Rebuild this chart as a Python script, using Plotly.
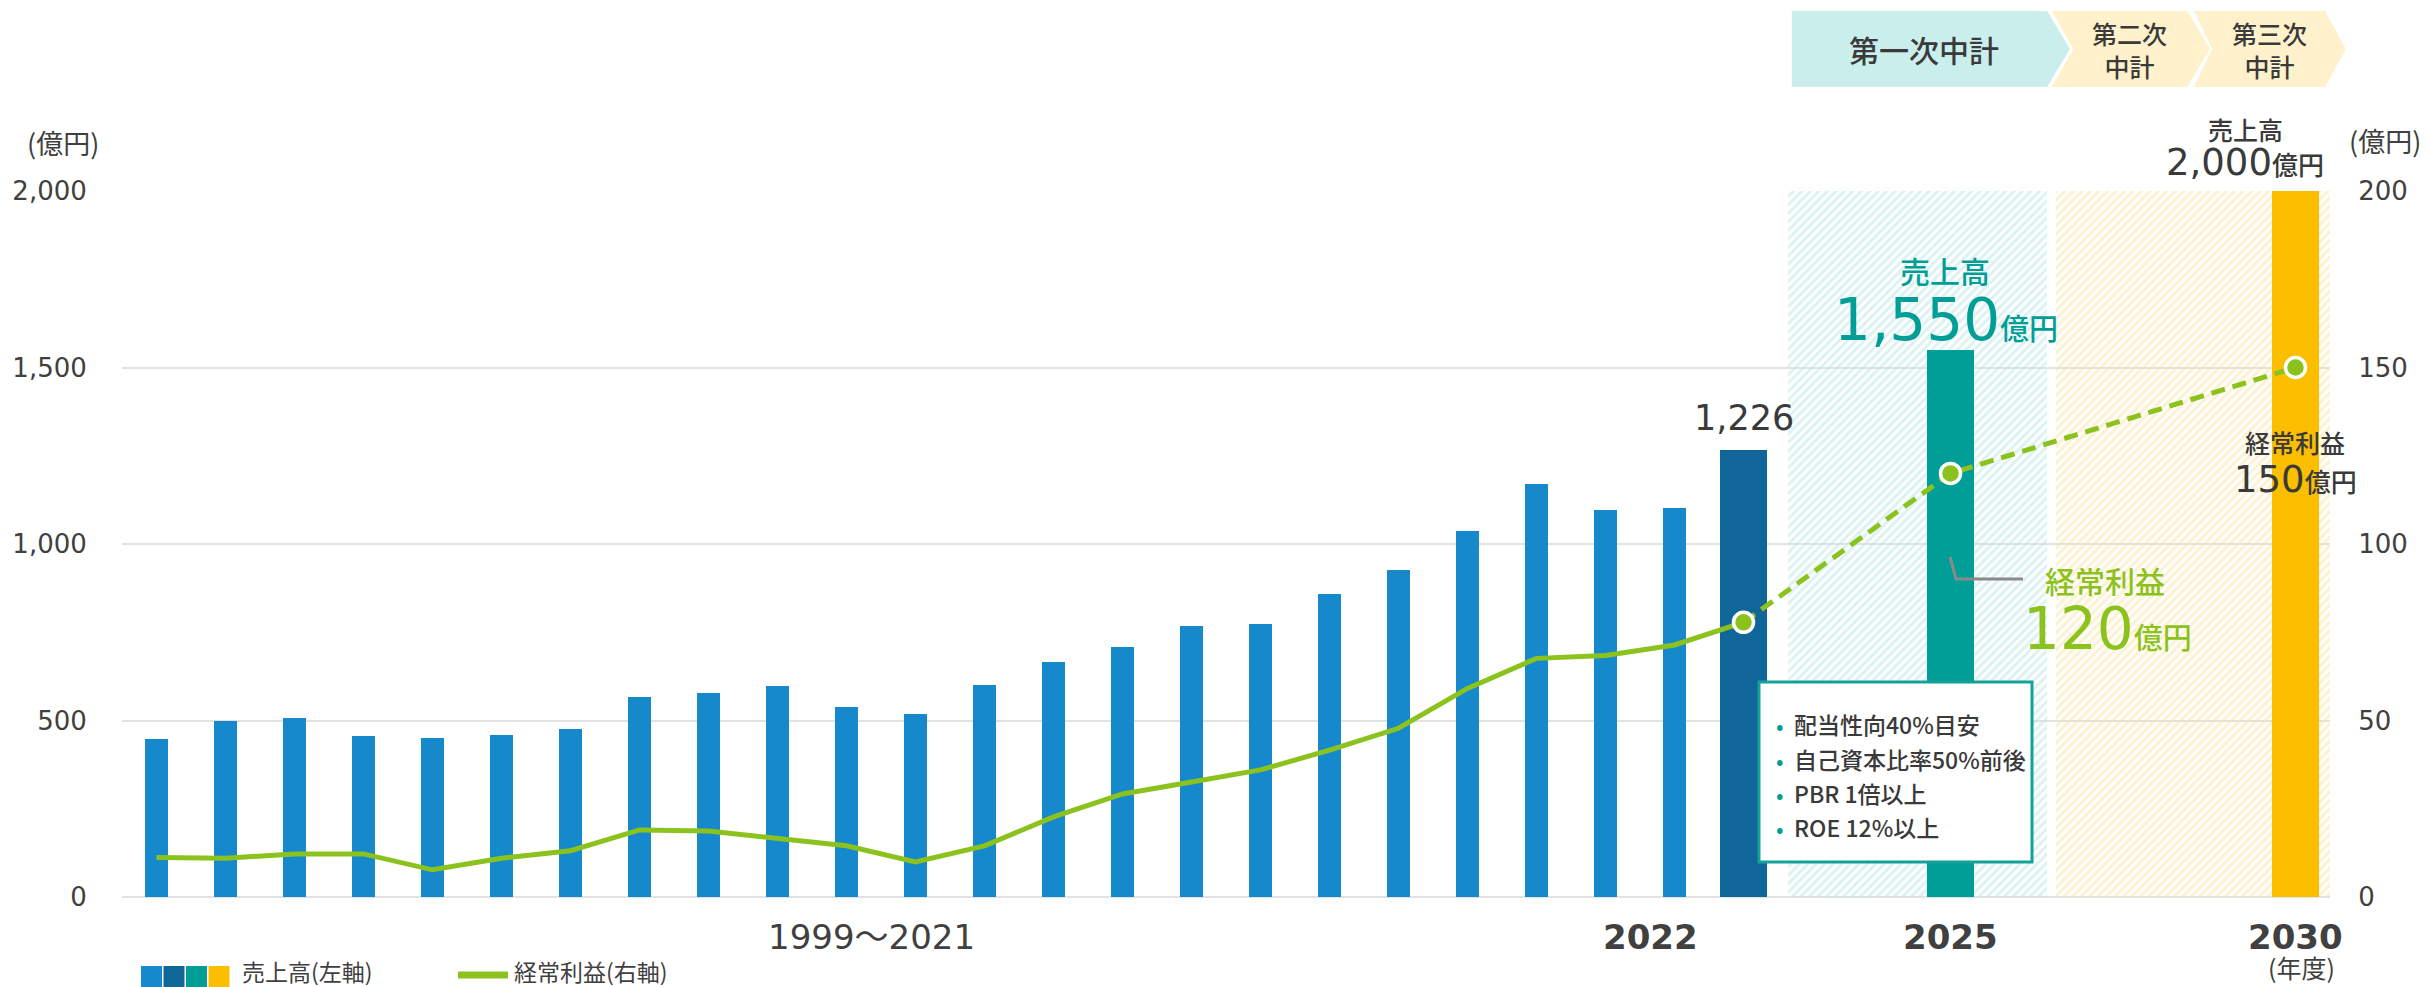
import plotly.graph_objects as go

# ---------------- data ----------------
years_hist = list(range(1999, 2022))
sales_hist = [447, 498, 506, 456, 450, 460, 476, 568, 577, 598, 537, 518,
              601, 666, 708, 768, 773, 859, 925, 1037, 1171, 1096, 1101]
profit_hist = [11.2, 11.0, 12.2, 12.2, 7.7, 11.0, 13.1, 19.0, 18.7, 16.6, 14.5, 9.9,
               14.5, 22.7, 29.2, 32.6, 36.0, 41.6, 47.8, 59.1, 67.6, 68.4, 71.4]
year_actual = 2022
sales_actual = 1265
sales_actual_label = "1,226"
profit_actual = 77.8
years_plan = [2025, 2030]
sales_plan = [1550, 2000]
profit_plan = [120, 150]
plan_labels = ["第一次中計", "第二次<br>中計", "第三次<br>中計"]
box_lines = ["配当性向40%目安", "自己資本比率50%前後", "PBR 1倍以上", "ROE 12%以上"]

# ---------------- style ----------------
C_HIST = "#1589cb"
C_ACT = "#116699"
C_MID = "#009e96"
C_LONG = "#fbbf00"
C_LINE = "#8cc21e"
C_TEXT = "#404040"
C_DARK = "#3a3a3a"
FONT = "Noto Sans CJK JP"
NUMFONT = "DejaVu Sans, Noto Sans CJK JP"

X_MIN, X_MAX = 1998.5, 2030.5
L_M, R_M, T_M, B_M = 122, 98, 191, 90
W, H = 2428, 987
PW, PH = W - L_M - R_M, H - T_M - B_M


def px_x(px):
    return (px - L_M) / PW


def px_y(py):
    return (H - B_M - py) / PH


def yr(y):
    return (y - X_MIN) / (X_MAX - X_MIN)


def label(px, py, text, size, color=C_TEXT, weight=400, xanchor="center",
          family=FONT, **kw):
    d = dict(x=px_x(px), y=px_y(py), xref="paper", yref="paper", text=text,
             showarrow=False, xanchor=xanchor, yanchor="middle",
             font=dict(size=size, color=color, family=family, weight=weight))
    d.update(kw)
    return d


fig = go.Figure()

# hatched plan-period backgrounds
bands = [(2022.65, 2026.40, "#bae7e3"), (2026.53, 2030.63, "#fbe3a0")]
for x0, x1, col in bands:
    fig.add_trace(go.Bar(
        x=[(x0 + x1) / 2], y=[2000], width=[x1 - x0], base=0,
        marker=dict(color="rgba(255,255,255,0)", line=dict(width=0),
                    pattern=dict(shape="/", fgcolor=col, bgcolor="rgba(255,255,255,0)",
                                 size=6, solidity=0.5, fillmode="overlay")),
        cliponaxis=False, hoverinfo="skip", showlegend=False))

# sales bars
bar_x = years_hist + [year_actual] + years_plan
bar_y = sales_hist + [sales_actual] + sales_plan
bar_c = [C_HIST] * len(years_hist) + [C_ACT, C_MID, C_LONG]
bar_w = [0.337] * len(years_hist) + [0.68, 0.68, 0.68]
fig.add_trace(go.Bar(x=bar_x, y=bar_y, width=bar_w,
                     marker=dict(color=bar_c, line=dict(width=0)),
                     showlegend=False))

# profit line
fig.add_trace(go.Scatter(x=years_hist + [year_actual], y=profit_hist + [profit_actual],
                         yaxis="y2", mode="lines",
                         line=dict(color=C_LINE, width=5), showlegend=False))
fig.add_trace(go.Scatter(x=[year_actual] + years_plan, y=[profit_actual] + profit_plan,
                         yaxis="y2", mode="lines",
                         line=dict(color=C_LINE, width=5, dash="14px,8px"), showlegend=False))
fig.add_trace(go.Scatter(x=[year_actual] + years_plan, y=[profit_actual] + profit_plan,
                         yaxis="y2", mode="markers",
                         marker=dict(color=C_LINE, size=20, line=dict(color="white", width=3.5)),
                         showlegend=False))

shapes = []
annos = []

# chevron banner
chev_top, chev_bot = px_y(11), px_y(87)
chev_mid = (chev_top + chev_bot) / 2
chevrons = [
    (2022.70, None, 2026.40, 2026.73, "#c9eeec", 2024.62, 30),
    (2026.47, 2026.78, 2028.43, 2028.76, "#fff1cc", 2027.60, 25),
    (2028.53, 2028.79, 2030.43, 2030.73, "#fff1cc", 2029.62, 25),
]
for i, (lx, nx, rx, tx, col, cx, fs) in enumerate(chevrons):
    pts = [(yr(lx), chev_top), (yr(rx), chev_top), (yr(tx), chev_mid),
           (yr(rx), chev_bot), (yr(lx), chev_bot)]
    if nx is not None:
        pts.append((yr(nx), chev_mid))
    path = "M " + " L ".join(f"{a:.5f},{b:.5f}" for a, b in pts) + " Z"
    shapes.append(dict(type="path", path=path, xref="paper", yref="paper",
                       fillcolor=col, line=dict(width=0), layer="above"))
    annos.append(dict(x=yr(cx), y=chev_mid, xref="paper", yref="paper",
                      xanchor="center", yanchor="middle",
                      text=plan_labels[i], showarrow=False,
                      font=dict(size=fs, color=C_DARK, family=FONT, weight=500)))

# axis unit labels
annos.append(label(63, 142, "(億円)", 27))
annos.append(label(2385, 141, "(億円)", 27))

# x labels
annos.append(label(871, 937, f"{years_hist[0]}〜{years_hist[-1]}", 34, family=NUMFONT))
annos.append(label(1650, 937, str(year_actual), 34, weight=700, family=NUMFONT))
for yv in years_plan:
    annos.append(dict(x=yr(yv), y=px_y(937), xref="paper", yref="paper",
                      xanchor="center", yanchor="middle",
                      text=str(yv), showarrow=False,
                      font=dict(size=34, color=C_TEXT, family=NUMFONT, weight=700)))
annos.append(label(2301, 967, "(年度)", 25))

# value labels
annos.append(dict(x=year_actual, y=px_y(418), xref="x", yref="paper",
                  xanchor="center", yanchor="middle",
                  text=sales_actual_label, showarrow=False,
                  font=dict(size=35, color=C_DARK, family=NUMFONT, weight=400)))

annos.append(label(1945, 270, "売上高", 30, C_MID, 500))
annos.append(label(1946, 320, f"{sales_plan[0]:,}<span style='font-size:29px'>億円</span>",
                   58, C_MID, 500, family=NUMFONT))
annos.append(label(2105, 580, "経常利益", 30, C_LINE, 500))
annos.append(label(2107, 629, f"{profit_plan[0]}<span style='font-size:29px'>億円</span>",
                   58, C_LINE, 500, family=NUMFONT))
annos.append(label(2245, 129, "売上高", 25, C_DARK, 500))
annos.append(label(2245, 163, f"{sales_plan[1]:,}<span style='font-size:26px'>億円</span>",
                   37, C_DARK, 500, family=NUMFONT))
annos.append(label(2295, 442, "経常利益", 25, C_DARK, 500))
annos.append(label(2295, 479, f"{profit_plan[1]}<span style='font-size:26px'>億円</span>",
                   37, C_DARK, 500, family=NUMFONT))

# leader line for 経常利益 120
lead = [(1950, 557), (1956, 579), (2023, 579)]
shapes.append(dict(type="path", xref="paper", yref="paper", layer="above",
                   path="M " + " L ".join(f"{px_x(a):.5f},{px_y(b):.5f}" for a, b in lead),
                   line=dict(color="#8a8a8a", width=3)))

# target box
shapes.append(dict(type="rect", xref="paper", yref="paper", layer="above",
                   x0=px_x(1759), x1=px_x(2032), y0=px_y(862), y1=px_y(682),
                   fillcolor="white", line=dict(color="#14a19a", width=3)))
box_y = [724, 759, 793, 827]
for t, by in zip(box_lines, box_y):
    annos.append(label(1779, by, "•", 22, C_MID))
    annos.append(label(1792, by, t, 23, C_DARK, 500, xanchor="left"))

# custom legend
sq_cols = [C_HIST, C_ACT, C_MID, C_LONG]
for i, c in enumerate(sq_cols):
    x0 = 141 + i * 22.5
    shapes.append(dict(type="rect", xref="paper", yref="paper",
                       x0=px_x(x0), x1=px_x(x0 + 21), y0=px_y(966), y1=px_y(988),
                       fillcolor=c, line=dict(width=0)))
annos.append(label(240, 971, "売上高(左軸)", 23, xanchor="left"))
shapes.append(dict(type="line", xref="paper", yref="paper",
                   x0=px_x(458), x1=px_x(508), y0=px_y(975), y1=px_y(975),
                   line=dict(color=C_LINE, width=7)))
annos.append(label(512, 971, "経常利益(右軸)", 23, xanchor="left"))

fig.update_layout(
    width=W, height=H,
    margin=dict(l=L_M, r=R_M, t=T_M, b=B_M, pad=0, autoexpand=False),
    paper_bgcolor="white", plot_bgcolor="white",
    font=dict(family=FONT, color=C_TEXT),
    barmode="overlay", bargap=0,
    showlegend=False,
    shapes=shapes, annotations=annos,
    xaxis=dict(range=[X_MIN, X_MAX], showgrid=False, zeroline=False,
               showticklabels=False, ticks="", showline=False, fixedrange=True),
    yaxis=dict(range=[0, 2000], tickvals=[0, 500, 1000, 1500, 2000],
               tickformat=",", showgrid=True, gridcolor="#e2e2e2", gridwidth=2,
               zeroline=True, zerolinecolor="#e2e2e2", zerolinewidth=2,
               ticks="outside", ticklen=29, tickcolor="rgba(0,0,0,0)",
               tickfont=dict(size=26, color=C_TEXT, family=NUMFONT), showline=False),
    yaxis2=dict(range=[0, 200], tickvals=[0, 50, 100, 150, 200],
                overlaying="y", side="right", showgrid=False, zeroline=False,
                ticks="outside", ticklen=22, tickcolor="rgba(0,0,0,0)",
                tickfont=dict(size=26, color=C_TEXT, family=NUMFONT), showline=False),
)

fig.write_html("out.html", config={"displayModeBar": False},
               post_script="document.body.style.margin='0';document.body.style.overflow='hidden';")
